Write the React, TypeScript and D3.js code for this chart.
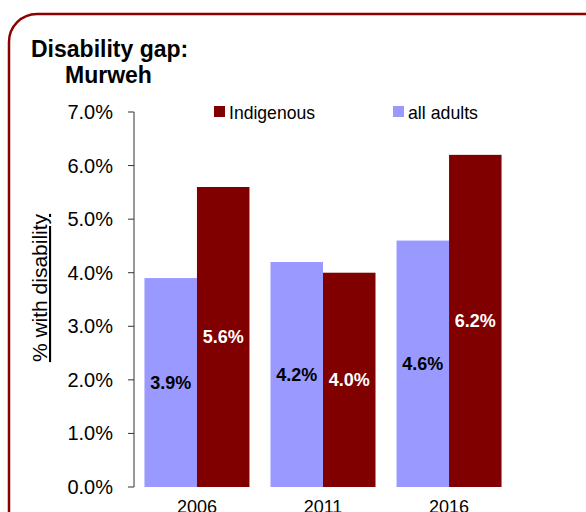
import React from "react";
import * as d3 from "d3";

const years = ["2006", "2011", "2016"];
const allAdults = [3.9, 4.2, 4.6];
const indigenous = [5.6, 4.0, 6.2];
const yTicks = [0, 1, 2, 3, 4, 5, 6, 7];
const seriesNames = ["all adults", "Indigenous"];

const W = 586;
const H = 512;
const FONT = "'Liberation Sans', Arial, sans-serif";
const RED = "#800000";
const BLUE = "#9999ff";

export default function App() {
  const y = d3.scaleLinear().domain([0, 7]).range([487, 112]);
  const x = d3.scaleBand().domain(years).range([134, 512]).paddingInner(0.167).paddingOuter(0.083);
  const sub = d3.scaleBand().domain(seriesNames).range([0, x.bandwidth()]);
  const series = [
    { name: "all adults", values: allAdults, color: BLUE, label: "#000" },
    { name: "Indigenous", values: indigenous, color: RED, label: "#fff" },
  ];
  return (
    <svg width={W} height={H} style={{ position: "absolute", left: 0, top: 0 }} fontFamily={FONT}>
      <rect x={9} y={14} width={W + 20} height={H + 40} rx={28} ry={28} fill="#fff" stroke="#8b0000" strokeWidth={2.5} />
      <text x={31} y={57} fontSize={23} fontWeight="bold" fill="#000">Disability gap:</text>
      <text x={65} y={83} fontSize={23} fontWeight="bold" fill="#000">Murweh</text>
      {series.map((s) =>
        years.map((yr, i) => (
          <rect key={s.name + yr} x={(x(yr) ?? 0) + (sub(s.name) ?? 0)} y={y(s.values[i])} width={sub.bandwidth()} height={y(0) - y(s.values[i])} fill={s.color} />
        ))
      )}
      {series.map((s) =>
        years.map((yr, i) => (
          <text key={"l" + s.name + yr} x={(x(yr) ?? 0) + (sub(s.name) ?? 0) + sub.bandwidth() / 2} y={y(s.values[i] / 2)} dy="0.35em" textAnchor="middle" fontSize={18} fontWeight="bold" fill={s.label}>
            {s.values[i].toFixed(1) + "%"}
          </text>
        ))
      )}
      <line x1={134} x2={134} y1={y(7)} y2={y(0)} stroke="#333" strokeWidth={1} />
      {yTicks.map((t) => (
        <g key={t}>
          <line x1={128} x2={134} y1={y(t)} y2={y(t)} stroke="#333" strokeWidth={1} />
          <text x={113} y={y(t)} dy="0.35em" textAnchor="end" fontSize={20} fill="#000">{t.toFixed(1) + "%"}</text>
        </g>
      ))}
      {years.map((yr) => (
        <text key={yr} x={(x(yr) ?? 0) + x.bandwidth() / 2} y={513} textAnchor="middle" fontSize={18} fill="#000">{yr}</text>
      ))}
      <text transform={`translate(47,288) rotate(-90)`} textAnchor="middle" fontSize={21} fill="#000" textDecoration="underline">% with disability</text>
      <rect x={214} y={106} width={11} height={11} fill={RED} />
      <text x={229} y={119} fontSize={19} fill="#000" textLength={86} lengthAdjust="spacingAndGlyphs">Indigenous</text>
      <rect x={393} y={106} width={11} height={11} fill={BLUE} />
      <text x={408} y={119} fontSize={19} fill="#000" textLength={70} lengthAdjust="spacingAndGlyphs">all adults</text>
    </svg>
  );
}
